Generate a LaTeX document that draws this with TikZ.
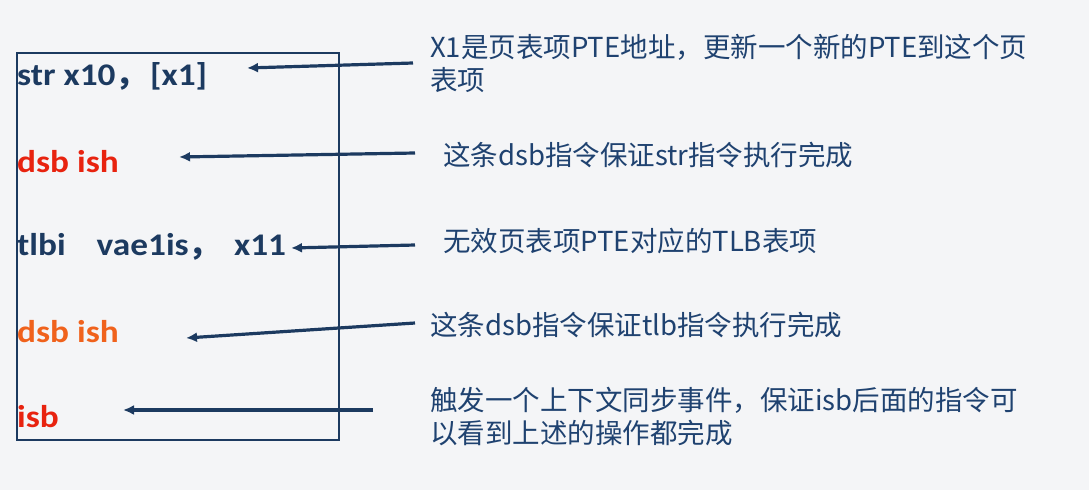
\documentclass[tikz,border=0pt]{standalone}
\usepackage{fontspec}
\usetikzlibrary{arrows.meta}
\newfontfamily\codefont[FakeStretch=1.12]{Carlito}
\newfontfamily\cjk{Noto Sans CJK SC}
\definecolor{bgc}{HTML}{F4F5F7}
\definecolor{navy}{HTML}{1C3A60}
\definecolor{codered}{HTML}{E8230F}
\definecolor{codeorange}{HTML}{F0621C}
\definecolor{notec}{HTML}{1F4270}
\tikzset{
  code/.style={anchor=base west, inner sep=0pt, font=\codefont\bfseries\fontsize{31.5}{36}\selectfont},
  note/.style={anchor=base west, inner sep=0pt, align=left, text=notec, font=\cjk\fontsize{27.5}{33}\selectfont},
  conn/.style={draw=navy, line width=3.2pt, -{Latex[length=11pt,width=10pt]}},
}
\begin{document}
\begin{tikzpicture}[x=1pt,y=-1pt]
\fill[bgc] (0,0) rectangle (1089,490);
\useasboundingbox (0,0) rectangle (1089,490);
\draw[navy, line width=2.6pt] (17,53) rectangle (339,440);
% code lines
\node[code, text=navy] (c1) at (17,85) {str x10{\cjk\bfseries ，}\hspace{3pt}[x1]};
\node[code, text=codered] (c2) at (17,172) {dsb ish};
\node[code, text=navy] (c3) at (17,255) {tlbi\hspace{31pt}vae1is{\cjk\bfseries ，}\hspace{14pt}x11};
\node[code, text=codeorange] (c4) at (17,342) {dsb ish};
\node[code, text=codered] (c5) at (17,427) {isb};
% notes
\node[note] (n1) at (430,90) {X1是页表项PTE地址，更新一个新的PTE到这个页\\表项};
\node[note] (n2) at (443,165) {这条dsb指令保证str指令执行完成};
\node[note] (n3) at (443,251) {无效页表项PTE对应的TLB表项};
\node[note] (n4) at (430,335) {这条dsb指令保证tlb指令执行完成};
\node[note] (n5) at (430,443) {触发一个上下文同步事件，保证isb后面的指令可\\以看到上述的操作都完成};
% connector ends
\coordinate (s1) at (413,63);  \coordinate (t1) at (247,68);
\coordinate (s2) at (415,153); \coordinate (t2) at (179,157);
\coordinate (s3) at (415,245); \coordinate (t3) at (291,248);
\coordinate (s4) at (415,323); \coordinate (t4) at (186,338);
\coordinate (s5) at (373,410); \coordinate (t5) at (123,410);
\draw[conn] (s1) -- (t1);
\draw[conn] (s2) -- (t2);
\draw[conn] (s3) -- (t3);
\draw[conn] (s4) -- (t4);
\draw[conn] (s5) -- (t5);
\end{tikzpicture}
\end{document}
